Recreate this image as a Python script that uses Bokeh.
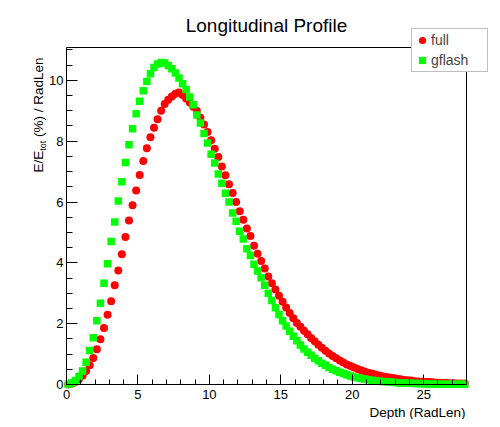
import math
from bokeh.plotting import figure
from bokeh.models import Range1d, FixedTicker, Label, Legend, LegendItem, ColumnDataSource
from bokeh.embed import file_html
from bokeh.resources import INLINE

# ---- data ----
n_bins = 112
bin_width = 0.25
depth = [bin_width * (i + 0.5) for i in range(n_bins)]

full = [0.00, 0.03, 0.09, 0.17, 0.29, 0.44, 0.63, 0.87, 1.16, 1.49, 1.86, 2.29,
        2.74, 3.26, 3.75, 4.28, 4.85, 5.39, 5.89, 6.38, 6.89, 7.35, 7.77, 8.13,
        8.44, 8.72, 9.00, 9.22, 9.36, 9.47, 9.56, 9.60, 9.52, 9.40, 9.27, 9.13,
        8.99, 8.77, 8.55, 8.30, 8.03, 7.75, 7.48, 7.17, 6.88, 6.58, 6.30, 6.00,
        5.70, 5.42, 5.13, 4.88, 4.56, 4.30, 4.06, 3.81, 3.55, 3.33, 3.12, 2.92,
        2.72, 2.53, 2.35, 2.18, 2.02, 1.90, 1.77, 1.65, 1.53, 1.42, 1.31, 1.21,
        1.11, 1.02, 0.94, 0.86, 0.79, 0.72, 0.66, 0.61, 0.56, 0.51, 0.47, 0.43,
        0.39, 0.36, 0.33, 0.30, 0.27, 0.25, 0.23, 0.21, 0.19, 0.17, 0.15, 0.14,
        0.13, 0.11, 0.10, 0.09, 0.08, 0.08, 0.07, 0.06, 0.06, 0.05, 0.05, 0.04,
        0.04, 0.03, 0.03, 0.03]

gflash = [0.01, 0.05, 0.13, 0.26, 0.44, 0.73, 1.12, 1.54, 2.10, 2.67, 3.33, 3.97,
          4.70, 5.34, 6.03, 6.67, 7.30, 7.88, 8.41, 8.90, 9.31, 9.66, 9.96, 10.22,
          10.42, 10.54, 10.59, 10.57, 10.49, 10.38, 10.24, 10.08, 9.89, 9.70, 9.45, 9.20,
          8.86, 8.60, 8.25, 7.94, 7.57, 7.28, 6.92, 6.62, 6.29, 6.00, 5.64, 5.37,
          5.04, 4.78, 4.46, 4.24, 3.95, 3.73, 3.51, 3.26, 3.00, 2.76, 2.52, 2.30,
          2.10, 1.92, 1.75, 1.59, 1.44, 1.30, 1.17, 1.06, 0.96, 0.86, 0.78, 0.70,
          0.63, 0.56, 0.50, 0.45, 0.40, 0.36, 0.32, 0.28, 0.25, 0.22, 0.20, 0.18,
          0.16, 0.14, 0.12, 0.11, 0.10, 0.09, 0.08, 0.07, 0.06, 0.05, 0.05, 0.04,
          0.04, 0.03, 0.03, 0.03, 0.02, 0.02, 0.02, 0.02, 0.01, 0.01, 0.01, 0.01,
          0.01, 0.01, 0.01, 0.01]

x_major = [0, 5, 10, 15, 20, 25]
x_minor = list(range(0, 29))
y_major = [0, 2, 4, 6, 8, 10]
y_minor = [i * 0.5 for i in range(0, 23)]

X_MAX = 28.0
Y_MAX = 11.08

FONT = "Liberation Sans"

# canvas and ROOT-style frame geometry (pixels)
W, H = 492, 419
PX_L, PX_R, PX_T, PX_B = 66, 466, 47, 384
SX = (PX_R - PX_L) / X_MAX
SY = (PX_B - PX_T) / Y_MAX

p = figure(width=W, height=H, output_backend="svg", toolbar_location=None, title=None,
           x_range=Range1d(-PX_L / SX, (W - PX_L) / SX),
           y_range=Range1d(-(H - PX_B) / SY, PX_B / SY),
           min_border=0, min_border_left=0, min_border_right=0,
           min_border_top=0, min_border_bottom=0)
p.background_fill_color = "white"
p.border_fill_color = "white"
p.outline_line_color = None
p.grid.visible = False

for ax, maj, mnr, tin, tmin, bnd in ((p.xaxis[0], x_major, x_minor, 10, 5, (0, X_MAX)),
                                     (p.yaxis[0], y_major, y_minor, 11, 6, (0, Y_MAX))):
    ax.fixed_location = 0
    ax.bounds = bnd
    ax.ticker = FixedTicker(ticks=maj, minor_ticks=mnr)
    ax.major_tick_in = tin
    ax.major_tick_out = 0
    ax.minor_tick_in = tmin
    ax.minor_tick_out = 0
    ax.axis_line_color = "black"
    ax.major_tick_line_color = "black"
    ax.minor_tick_line_color = "black"
    ax.major_label_text_font = FONT
    ax.major_label_text_font_size = "13px"
    ax.major_label_text_color = "black"
p.xaxis[0].major_label_standoff = 5
p.yaxis[0].major_label_standoff = 3

# top and right edges of the plot frame
p.line([0, X_MAX, X_MAX], [Y_MAX, Y_MAX, 0], line_color="black", line_width=1)

src = ColumnDataSource(dict(depth=depth, full=full, gflash=gflash))
r_full = p.scatter("depth", "full", source=src, marker="circle", size=8,
                   fill_color="#ff0000", line_color=None)
r_gf = p.scatter("depth", "gflash", source=src, marker="square", size=7.5,
                 fill_color="#00ff00", line_color=None)

legend = Legend(items=[LegendItem(label="full", renderers=[r_full]),
                       LegendItem(label="gflash", renderers=[r_gf])],
                location=(411, H - 72), orientation="vertical",
                padding=1, margin=0, spacing=0, glyph_width=18, glyph_height=20,
                label_height=20, label_width=55, label_standoff=0,
                label_text_font=FONT, label_text_font_size="14px",
                border_line_color="#7f7f7f", border_line_width=1,
                background_fill_color="white", background_fill_alpha=1.0)
p.add_layout(legend)

def dx(px):
    return (px - PX_L) / SX

def dy(py):
    return (PX_B - py) / SY

p.add_layout(Label(x=dx(266), y=dy(25), text="Longitudinal Profile", text_align="center",
                   text_baseline="alphabetic", text_font=FONT, text_font_size="19px",
                   text_color="black"))
p.add_layout(Label(x=dx(465), y=dy(412), text="Depth (RadLen)", text_align="right",
                   text_baseline="alphabetic", text_font=FONT, text_font_size="13.5px",
                   text_color="black"))

# y-axis title (rotated) with subscript
fs = 13.5
sub_fs = 9
w1 = 1.612 * fs
w2 = 1.112 * sub_fs
w_space = 0.278 * fs
start = 172
p.add_layout(Label(x=dx(38), y=dy(start), text="E/E", angle=math.pi / 2, text_align="left",
                   text_baseline="alphabetic", text_font=FONT, text_font_size=f"{fs}px",
                   text_color="black"))
p.add_layout(Label(x=dx(42), y=dy(start - w1), text="tot", angle=math.pi / 2, text_align="left",
                   text_baseline="alphabetic", text_font=FONT, text_font_size=f"{sub_fs}px",
                   text_color="black"))
p.add_layout(Label(x=dx(38), y=dy(start - w1 - w2 - w_space), text="(%) / RadLen",
                   angle=math.pi / 2, text_align="left", text_baseline="alphabetic",
                   text_font=FONT, text_font_size=f"{fs}px", text_color="black"))

open("out.html", "w").write(file_html(p, INLINE))
